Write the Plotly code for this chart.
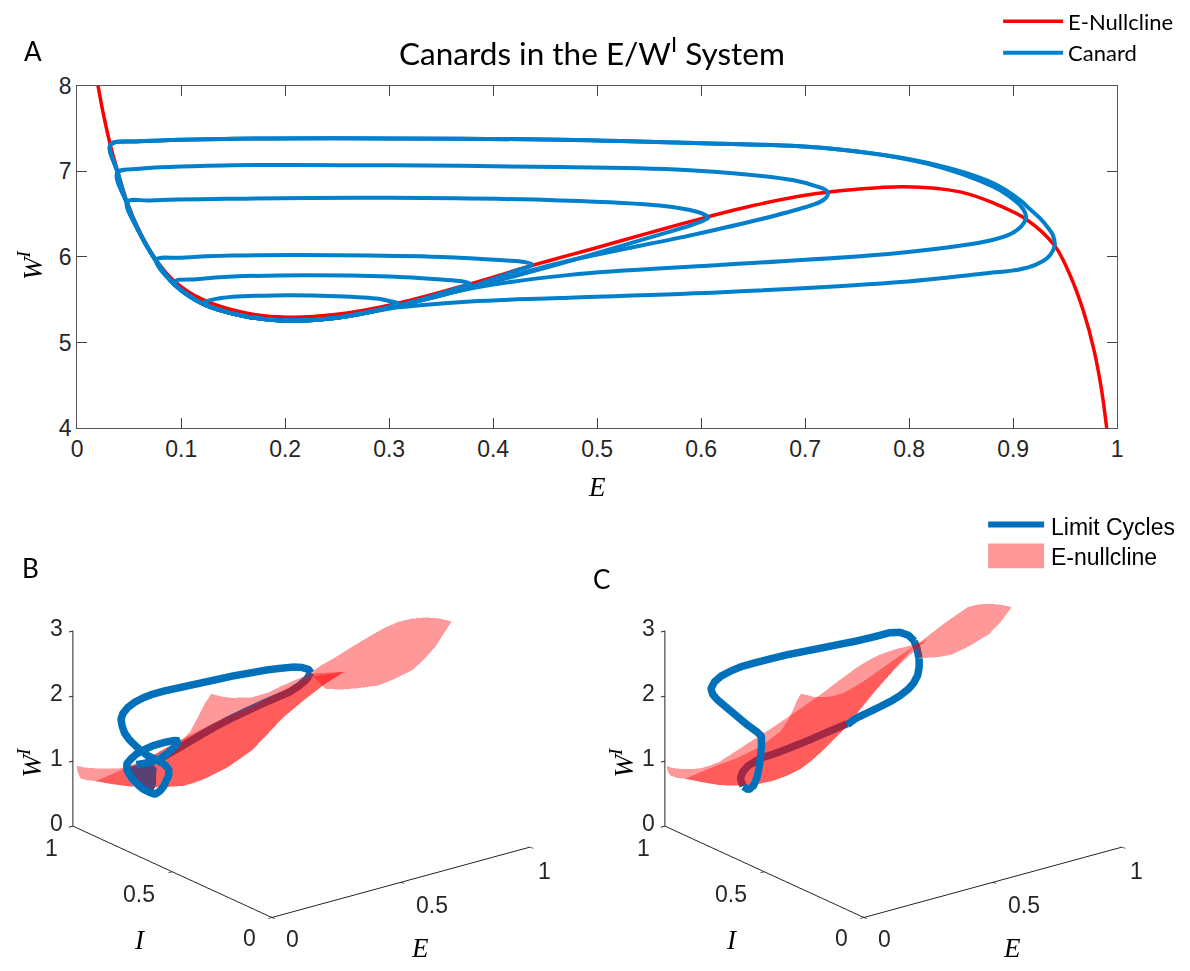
import plotly.graph_objects as go

# ---- Panel A: E-nullcline and canard cycles (E, W^I) ----
null_E=[.02,.025,.032,.0385,.048,.06,.076,.094,.121,.16,.202,.25,.309,.378,.4375,.5,.55,.607,.65,.7,.75,.795,.849,.881,.9125,.94,.955,.9675,.978,.985,.99]
null_W=[8.0,7.68,7.3,7.02,6.64,6.3,5.965,5.71,5.5,5.35,5.295,5.33,5.46,5.685,5.9,6.11,6.28,6.47,6.6,6.72,6.79,6.82,6.76,6.63,6.44,6.13,5.78,5.37,4.9,4.45,4.0]

c1_E=[.308,.3,.29,.25,.19,.15,.13,.121,.14,.17,.2,.25,.29,.303,.308]
c1_W=[5.46,5.485,5.51,5.54,5.55,5.535,5.5,5.46,5.37,5.29,5.26,5.29,5.38,5.43,5.46]
c2_E=[.378,.37,.35,.3,.22,.15,.115,.094,.121,.16,.2,.25,.309,.36,.373,.378]
c2_W=[5.69,5.715,5.735,5.77,5.785,5.77,5.74,5.71,5.45,5.31,5.255,5.29,5.43,5.61,5.665,5.69]
c3_E=[.4375,.43,.41,.35,.25,.15,.1,.076,.094,.121,.16,.2,.25,.309,.378,.425,.434,.4375]
c3_W=[5.91,5.94,5.96,6.0,6.02,6.015,5.99,5.965,5.67,5.45,5.31,5.255,5.29,5.43,5.65,5.85,5.885,5.91]
c4_E=[.607,.604,.595,.56,.464,.3,.15,.07,.048,.06,.076,.094,.121,.16,.2,.25,.309,.378,.464,.56,.59,.603,.607]
c4_W=[6.46,6.49,6.53,6.6,6.66,6.69,6.68,6.66,6.64,6.28,5.95,5.67,5.45,5.31,5.255,5.29,5.43,5.64,5.92,6.26,6.37,6.43,6.46]
c5_E=[.722,.72,.712,.689,.593,.464,.3,.15,.06,.0385,.048,.06,.076,.094,.121,.16,.2,.25,.309,.378,.464,.593,.657,.7,.714,.72,.722]
c5_W=[6.74,6.78,6.82,6.895,7.01,7.05,7.07,7.07,7.03,6.98,6.62,6.28,5.95,5.67,5.45,5.31,5.255,5.29,5.43,5.64,5.93,6.26,6.44,6.58,6.64,6.69,6.74]
c6_E=[.9125,.911,.907,.895,.881,.817,.721,.593,.464,.3,.15,.06,.032,.0385,.048,.06,.076,.094,.121,.16,.2,.25,.309,.378,.474,.625,.785,.86,.881,.898,.908,.9125]
c6_W=[6.46,6.53,6.6,6.72,6.82,7.09,7.27,7.33,7.37,7.385,7.38,7.35,7.31,7.0,6.62,6.28,5.95,5.67,5.45,5.31,5.255,5.29,5.43,5.63,5.79,5.91,6.04,6.15,6.2,6.27,6.36,6.46]
c7_E=[.94,.938,.933,.926,.916,.907,.881,.817,.721,.593,.464,.3,.15,.06,.032,.0385,.048,.06,.076,.094,.121,.16,.2,.25,.309,.378,.464,.625,.785,.875,.905,.922,.934,.94]
c7_W=[6.14,6.26,6.35,6.45,6.56,6.66,6.86,7.1,7.27,7.33,7.37,7.385,7.38,7.35,7.31,7.0,6.62,6.28,5.95,5.67,5.45,5.31,5.255,5.29,5.41,5.48,5.52,5.59,5.70,5.81,5.85,5.91,6.0,6.14]

# ---- Panel B: E-nullcline sheets (E, I, W^I) ----
b1t_E=[.010,.032,.068,.103,.134,.174,.210,.250,.290,.329,.369,.418,.467,.507,.547,.583,.618,.662,.707]
b1t_I=[.994,.980,.957,.935,.915,.890,.868,.843,.817,.792,.767,.736,.705,.680,.655,.633,.610,.582,.554]
b1t_W=[.924,.893,.871,.863,.868,.954,1.051,1.174,1.297,1.409,1.516,1.626,1.732,1.854,1.977,2.074,2.172,2.205,2.232]
b1b_E=[.010,.012,.019,.036,.059,.103,.147,.183,.218,.254,.290,.343,.405,.467,.507,.547,.602,.658,.707]
b1b_I=[.994,.992,.988,.977,.963,.935,.907,.885,.862,.840,.817,.784,.745,.705,.680,.655,.620,.585,.554]
b1b_W=[.924,.829,.734,.699,.679,.623,.582,.559,.552,.555,.564,.658,.828,1.077,1.315,1.558,1.819,2.059,2.232]
b2t_E=[.059,.094,.134,.174,.210,.250,.290,.306,.325,.343,.361,.387,.414,.467,.512,.547,.618,.707]
b2t_I=[.963,.941,.915,.890,.868,.843,.817,.807,.795,.784,.773,.756,.739,.705,.677,.655,.610,.554]
b2t_W=[.679,.761,.857,.954,1.051,1.174,1.297,1.398,1.603,1.809,1.962,1.915,1.889,1.889,1.958,2.055,2.224,2.232]
b2b_E=[.059,.094,.134,.174,.210,.254,.290,.316,.343,.374,.405,.436,.467,.507,.547,.602,.658,.707]
b2b_I=[.963,.941,.915,.890,.868,.840,.817,.801,.784,.764,.745,.725,.705,.680,.655,.620,.585,.554]
b2b_W=[.679,.635,.595,.566,.554,.555,.564,.600,.658,.740,.828,.953,1.077,1.315,1.558,1.819,2.059,2.232]
b3t_E=[.618,.649,.680,.716,.751,.782,.813,.849,.899,.935,.971,.987]
b3t_I=[.610,.591,.571,.549,.526,.507,.487,.465,.462,.440,.417,.378]
b3t_W=[2.235,2.349,2.447,2.571,2.694,2.793,2.891,2.973,2.973,2.981,2.959,2.950]
b3b_E=[.618,.636,.658,.698,.742,.796,.840,.884,.916,.947,.969,.987]
b3b_I=[.610,.599,.585,.560,.532,.498,.470,.442,.423,.403,.389,.378]
b3b_W=[2.235,2.116,1.981,1.962,1.974,2.005,2.101,2.223,2.384,2.587,2.792,2.950]
# dense part of the small cycle
bpt_E=[.079,.095,.122,.144,.157,.155]
bpt_I=[.832,.821,.805,.791,.782,.783]
bpt_W=[1.060,1.072,1.093,1.099,1.028,.914]
bpb_E=[.079,.091,.108,.130,.148,.155]
bpb_I=[.832,.824,.813,.799,.788,.783]
bpb_W=[1.060,.901,.777,.694,.664,.783]
# limit cycle, panel B
bu_E=[.528,.522,.504,.482,.446,.411,.366,.322,.277,.233,.189,.144,.113,.091,.069,.051,.038,.033,.036,.042,.055,.073,.087,.100,.118,.135,.149,.158,.158,.151,.144,.135,.122,.109,.091,.078,.064,.055,.048,.048,.060,.073,.095,.118,.149,.171,.184,.171,.153,.135,.113,.091,.073]
bu_I=[.489,.493,.504,.518,.541,.563,.591,.619,.647,.675,.703,.731,.751,.765,.779,.790,.798,.801,.799,.795,.787,.776,.767,.759,.748,.737,.728,.723,.723,.727,.731,.737,.745,.753,.765,.773,.781,.787,.791,.791,.784,.776,.762,.748,.728,.714,.706,.714,.725,.737,.751,.765,.776]
bu_W=[2.501,2.555,2.590,2.600,2.586,2.567,2.529,2.491,2.442,2.394,2.345,2.297,2.250,2.203,2.139,2.064,1.973,1.885,1.780,1.674,1.566,1.458,1.387,1.322,1.266,1.210,1.155,1.090,.996,.919,.831,.765,.715,.744,.800,.866,.952,1.027,1.112,1.201,1.277,1.343,1.411,1.465,1.511,1.532,1.524,1.422,1.337,1.262,1.214,1.193,1.181]
bl_E=[.319,.355,.386,.417,.461,.506,.550,.595,.630,.657,.683,.701,.712]
bl_I=[.977,.954,.935,.915,.887,.859,.831,.803,.781,.764,.747,.736,.729]
bl_W=[.718,.836,.934,1.038,1.181,1.308,1.424,1.536,1.618,1.680,1.779,1.865,1.967]

# ---- Panel C: E-nullcline sheets (E, I, W^I) ----
c1t_E=[.004,.020,.043,.072,.096,.125,.154,.203,.251,.300,.348,.397,.445,.494,.542,.576,.610,.659,.712,.728,.746]
c1t_I=[.996,.989,.978,.965,.953,.940,.926,.904,.881,.858,.836,.813,.790,.768,.745,.729,.713,.691,.666,.658,.650]
c1t_W=[.927,.888,.863,.851,.845,.875,.925,1.072,1.223,1.370,1.522,1.684,1.846,2.024,2.197,2.297,2.377,2.445,2.490,2.519,2.554]
c1b_E=[.004,.007,.014,.033,.057,.106,.154,.193,.232,.271,.309,.348,.387,.416,.445,.479,.513,.552,.591,.649,.746]
c1b_I=[.996,.995,.992,.983,.972,.949,.926,.908,.890,.872,.854,.836,.818,.804,.790,.774,.759,.741,.722,.695,.650]
c1b_W=[.927,.842,.776,.731,.705,.632,.569,.542,.525,.540,.570,.632,.720,.828,.957,1.125,1.294,1.538,1.783,2.125,2.554]
c2t_E=[.057,.106,.154,.203,.261,.295,.329,.348,.363,.375,.387,.406,.426,.455,.484,.513,.562,.610,.659,.712]
c2t_I=[.972,.949,.926,.904,.876,.861,.845,.836,.829,.823,.818,.808,.799,.786,.772,.759,.736,.713,.691,.666]
c2t_W=[.705,.799,.883,.956,1.088,1.194,1.321,1.469,1.620,1.772,1.871,1.842,1.802,1.790,1.803,1.843,1.979,2.141,2.304,2.474]
c2b_E=[.057,.096,.125,.154,.193,.232,.271,.309,.348,.387,.416,.445,.479,.513,.552,.591,.620,.649,.678,.712]
c2b_I=[.972,.953,.940,.926,.908,.890,.872,.854,.836,.818,.804,.790,.774,.759,.741,.722,.709,.695,.682,.666]
c2b_W=[.705,.647,.603,.569,.542,.525,.540,.570,.632,.720,.828,.957,1.125,1.294,1.538,1.783,1.954,2.125,2.280,2.474]
c3t_E=[.712,.746,.785,.824,.877,.906,.936,.955,.987]
c3t_I=[.666,.650,.632,.614,.616,.602,.588,.553,.538]
c3t_W=[2.474,2.596,2.746,2.876,2.956,2.985,2.983,2.998,2.947]
c3b_E=[.712,.719,.727,.775,.814,.862,.921,.955,.987]
c3b_I=[.666,.663,.659,.636,.618,.596,.568,.553,.538]
c3b_W=[2.474,2.367,2.274,2.269,2.289,2.389,2.557,2.726,2.947]
# limit cycle, panel C
cu1_E=[.426,.450,.484,.518,.552,.576,.601,.615,.627,.631,.631]
cu1_I=[.636,.625,.609,.593,.577,.566,.555,.548,.543,.541,.541]
cu1_W=[1.611,1.695,1.769,1.843,1.923,1.991,2.085,2.168,2.283,2.412,2.543]
cb_E=[.815,.809,.801]
cb_I=[.781,.784,.787]
cb_W=[2.009,2.169,2.277]
cu2_E=[.617,.601,.576,.547,.499,.450,.402,.353,.305,.256,.208,.159,.125,.096,.067,.048,.038,.043,.057,.082,.111,.140,.169,.182,.182,.179,.174,.169,.159,.145,.130]
cu2_I=[.547,.555,.566,.580,.602,.625,.648,.670,.693,.716,.738,.761,.777,.790,.804,.813,.818,.815,.809,.797,.784,.770,.756,.751,.751,.752,.754,.756,.761,.768,.774]
cu2_W=[2.811,2.907,2.964,2.971,2.924,2.882,2.851,2.820,2.788,2.757,2.715,2.668,2.630,2.580,2.509,2.428,2.327,2.236,2.146,2.021,1.878,1.734,1.606,1.533,1.376,1.194,1.039,.910,.784,.727,.786]
cl_E=[.299,.291,.297,.313,.347,.386,.425,.473,.522,.561,.595]
cl_I=[.995,.998,.995,.988,.972,.954,.936,.913,.890,.872,.856]
cl_W=[.296,.415,.517,.604,.704,.756,.817,.901,.995,1.068,1.131]

E_ticks=[0,.5,1]; I_ticks=[0,.5,1]; W_ticks=[0,1,2,3]

RED='#FF0000'; BLUE='#007FCC'; B3='#0070BA'; PURPLE='#5A4173'
SANS='Liberation Sans'; CAL='Lato'; SER='Liberation Serif'
W,H=1190,971
def cx(v): return (v-5.8)/.99
def cy(v): return (v-12.9)/.977
def xp(v): return cx(v)/W
def yp(v): return 1-cy(v)/H
fig=go.Figure()
fig.add_trace(go.Scatter(x=null_E,y=null_W,mode='lines',line=dict(color=RED,width=3.5,shape='spline',smoothing=1),name='E-Nullcline'))
for i,(e,w) in enumerate([(c1_E,c1_W),(c2_E,c2_W),(c3_E,c3_W),(c4_E,c4_W),(c5_E,c5_W),(c6_E,c6_W),(c7_E,c7_W)]):
    fig.add_trace(go.Scatter(x=e,y=w,mode='lines',line=dict(color=BLUE,width=4,shape='spline',smoothing=1),name='Canard',showlegend=i==0,legendgroup='c'))

def surf(te,ti,tw,be,bi,bw,scene,color=RED,op=.4):
    return go.Surface(x=[te,be],y=[ti,bi],z=[tw,bw],surfacecolor=[[0]*len(te)]*2,colorscale=[[0,color],[1,color]],showscale=False,opacity=op,scene=scene,
      lighting=dict(ambient=1,diffuse=0,specular=0,roughness=1,fresnel=0),hoverinfo='skip')
def line3(e,i,w,sc):
    return go.Scatter3d(x=e,y=i,z=w,mode='lines',line=dict(color=B3,width=15),scene=sc,hoverinfo='skip')
fig.add_trace(surf(b1t_E,b1t_I,b1t_W,b1b_E,b1b_I,b1b_W,'scene'))
fig.add_trace(surf(b2t_E,b2t_I,b2t_W,b2b_E,b2b_I,b2b_W,'scene'))
fig.add_trace(surf(b3t_E,b3t_I,b3t_W,b3b_E,b3b_I,b3b_W,'scene'))
fig.add_trace(surf(bpt_E,bpt_I,bpt_W,bpb_E,bpb_I,bpb_W,'scene',PURPLE,1))
fig.add_trace(line3(bu_E,bu_I,bu_W,'scene'))
fig.add_trace(line3(bl_E,bl_I,bl_W,'scene'))
fig.add_trace(surf(c1t_E,c1t_I,c1t_W,c1b_E,c1b_I,c1b_W,'scene2'))
fig.add_trace(surf(c2t_E,c2t_I,c2t_W,c2b_E,c2b_I,c2b_W,'scene2'))
fig.add_trace(surf(c3t_E,c3t_I,c3t_W,c3b_E,c3b_I,c3b_W,'scene2'))
fig.add_trace(line3(cu1_E,cu1_I,cu1_W,'scene2'))
fig.add_trace(line3(cb_E,cb_I,cb_W,'scene2'))
fig.add_trace(line3(cu2_E,cu2_I,cu2_W,'scene2'))
fig.add_trace(line3(cl_E,cl_I,cl_W,'scene2'))

def ax(vals):
    return dict(range=[vals[0],vals[-1]],tickvals=vals,showticklabels=False,showgrid=False,zeroline=False,showbackground=False,showline=True,linecolor='#222222',linewidth=2,ticks='outside',ticklen=5,tickcolor='#222222',tickwidth=2,title=dict(text=''),showspikes=False)
def lab(x,y,z,s,dx,dy):
    return dict(x=x,y=y,z=z,text=s,showarrow=False,xshift=dx,yshift=-dy,font=dict(family=SANS,size=23,color='#262626'))
scene_labels=[lab(0,1,z,str(z),-17,-3) for z in W_ticks]+[lab(0,1,0,'1',-22,22),lab(0,.5,0,'0.5',-34,22),lab(0,0,0,'0',-23,21),lab(0,0,0,'0',20,22),lab(.5,0,0,'0.5',31,23),lab(1,0,0,'1',14,24)]
SC=1.56
def scene(px,py):
    w,h=520,430
    c_x=cx(px);c_y=cy(py)+4
    return dict(domain=dict(x=[(c_x-w/2)/W,(c_x+w/2)/W],y=[1-(c_y+h/2)/H,1-(c_y-h/2)/H]),
      xaxis=ax(E_ticks),yaxis=ax(I_ticks),zaxis=ax(W_ticks),annotations=scene_labels,
      aspectmode='manual',aspectratio=dict(x=SC,y=SC,z=.64*SC),
      camera=dict(projection=dict(type='orthographic'),center=dict(x=0,y=0,z=0),up=dict(x=0,y=0,z=1),eye=dict(x=-.571*1.7,y=-.741*1.7,z=.354*1.7)))
txt=[]
def T(x,y,s,f=SANS,size=20,it=False,rot=0,c='#000000',anc='center'):
    if it: s='<i>'+s+'</i>'
    txt.append(dict(x=xp(x),y=yp(y),xref='paper',yref='paper',text=s,showarrow=False,font=dict(family=f,size=size,color=c),textangle=rot,xanchor=anc,yanchor='middle'))
T(33,50,'A',CAL,26);T(30,570,'B',CAL,26);T(601,581,'C',CAL,26)
T(592,50,'Canards in the E/W<sup>I</sup> System',CAL,31.5)
T(597,488,'E',SER,27,True);T(30,265,'W<sup>I</sup>',SER,27,True,-90)
T(30,765,'W<sup>I</sup>',SER,27,True,-90);T(622,765,'W<sup>I</sup>',SER,27,True,-90)
T(140,943,'I',SER,27,True);T(420,952,'E',SER,27,True);T(732,943,'I',SER,27,True);T(1012,952,'E',SER,27,True)
T(1049,528,'Limit Cycles',SANS,23,anc='left');T(1049,559,'E-nullcline',SANS,23,anc='left')
shapes=[dict(type='line',xref='paper',yref='paper',x0=xp(988),x1=xp(1044),y0=yp(526),y1=yp(526),line=dict(color=B3,width=6)),
 dict(type='rect',xref='paper',yref='paper',x0=xp(988),x1=xp(1044),y0=yp(570),y1=yp(545),fillcolor='#FF9999',line=dict(width=0))]
fig.update_layout(width=W,height=H,margin=dict(l=0,r=0,t=0,b=0),paper_bgcolor='white',plot_bgcolor='white',
 xaxis=dict(domain=[xp(77),xp(1117)],range=[0,1],dtick=.1,tick0=0,ticks='inside',ticklen=10,showgrid=False,zeroline=False,showline=True,mirror='ticks',linecolor='#555555',tickcolor='#444444',tickfont=dict(family=SANS,size=23,color='#262626'),tickformat='.1~f'),
 yaxis=dict(domain=[yp(429),yp(85)],range=[4,8],dtick=1,ticks='inside',ticklen=10,showgrid=False,zeroline=False,showline=True,mirror='ticks',linecolor='#555555',tickcolor='#444444',tickfont=dict(family=SANS,size=23,color='#262626')),
 scene=scene(301.5,737.5),scene2=scene(893.5,737.5),annotations=txt,shapes=shapes,
 showlegend=True,legend=dict(x=xp(998),y=1+14/H,xanchor='left',yanchor='top',font=dict(family=CAL,size=22,color='#000'),bgcolor='rgba(0,0,0,0)',itemwidth=60,tracegroupgap=0))
for tr in fig.data:
    if tr.type!='scatter': tr.showlegend=False
fig.write_html("out.html",config={'displayModeBar':False},post_script="document.body.style.margin='0';document.documentElement.style.overflow='hidden';")
